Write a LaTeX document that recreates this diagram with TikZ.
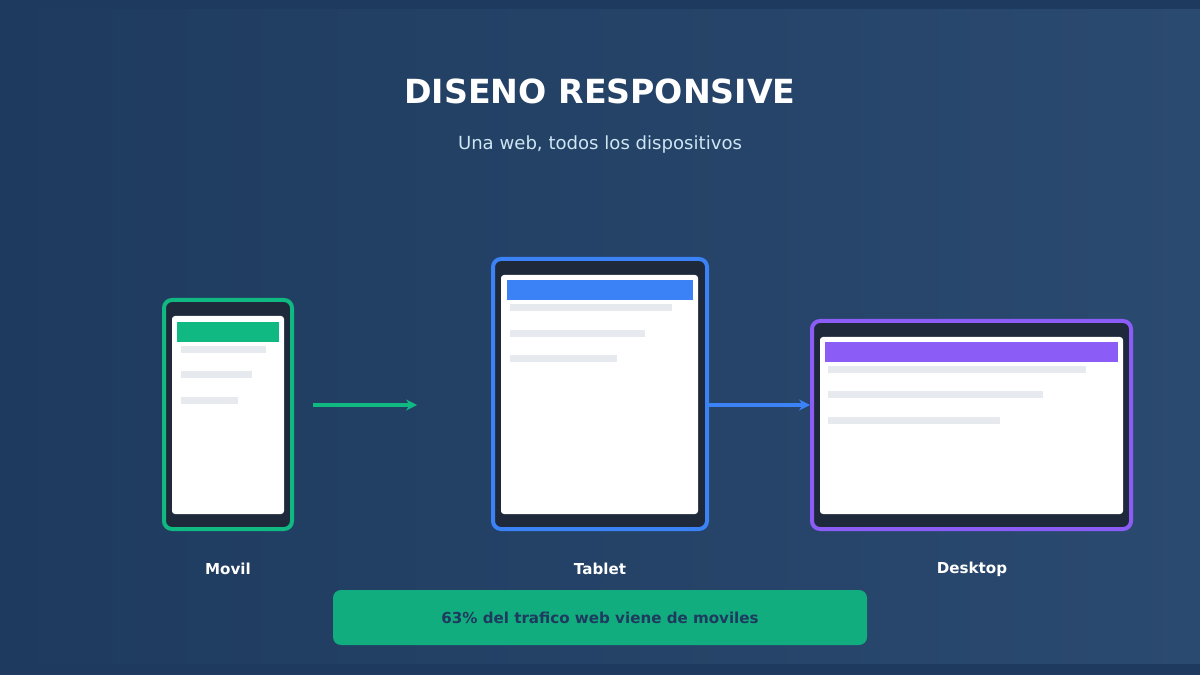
\documentclass[tikz,border=0pt]{standalone}
\usepackage{fontspec}
\setmainfont{DejaVu Sans}
\usetikzlibrary{arrows.meta}

\definecolor{bgleft}{HTML}{1E3A5F}
\definecolor{bgright}{HTML}{2B4A6F}
\definecolor{frame}{HTML}{1E293B}
\definecolor{mobgreen}{HTML}{10B981}
\definecolor{tabblue}{HTML}{3B82F6}
\definecolor{deskpurple}{HTML}{8B5CF6}
\definecolor{skel}{HTML}{E6EAEF}
\definecolor{bannergreen}{HTML}{12AD7E}
\definecolor{subtext}{HTML}{CDE6F2}

\newlength\px
\setlength\px{0.02cm}

\begin{document}
\begin{tikzpicture}[
		x=0.02cm, y=-0.02cm,
		device/.style={draw=#1, fill=frame, line width=4\px, rounded corners=8\px, inner sep=0pt},
		screen/.style={fill=white, rounded corners=3\px},
		skel line/.style={fill=skel},
		flowarrow/.style={color=#1, -{Stealth[length=0.22cm, width=0.22cm]}},
		caption/.style={font=\bfseries\fontsize{8.6}{10}\selectfont, text=white}
		]
		
		% ---------------------------------------------------------
		% Background
		% ---------------------------------------------------------
		\useasboundingbox (0,0) rectangle (1200,675);
		\fill[bgleft] (0,0) rectangle (1200,675);
		\shade[left color=bgleft, right color=bgright] (0,10) rectangle (1200,663);
		
		% ---------------------------------------------------------
		% Title
		% ---------------------------------------------------------
		\node[font=\bfseries\fontsize{18.9}{22}\selectfont, text=white] (title) at (600,91) {DISENO RESPONSIVE};
		\node[font=\fontsize{10.3}{12}\selectfont, text=subtext] (subtitle) at (600,145) {Una web, todos los dispositivos};
		
		% ---------------------------------------------------------
		% Devices
		% ---------------------------------------------------------
		\node[device=mobgreen, minimum width=128\px, minimum height=229\px] (movil) at (228,414.5) {};
		\node[device=tabblue, minimum width=214\px, minimum height=270\px] (tablet) at (600,394) {};
		\node[device=deskpurple, minimum width=319\px, minimum height=208\px] (desktop) at (971.5,425) {};
		
		% Screens with header bar and placeholder lines
		\foreach \xa/\ya/\xb/\yb/\hx/\hy/\hc in {172/316/284/514/177/322/mobgreen, 501/275/698/514/507/280/tabblue, 820/337/1123/514/825/342/deskpurple} {
			\fill[screen] (\xa,\ya) rectangle (\xb,\yb);
			\fill[\hc] (\hx,\hy) rectangle (\xb-5,\hy+20);
		}
		\foreach \xa/\xb/\ya in {181/266/346, 181/252/371, 181/238/397, 510/672/304, 510/645/330, 510/617/355, 828/1086/366, 828/1043/391, 828/1000/417} {
			\fill[skel line] (\xa,\ya) rectangle (\xb,\ya+7);
		}
		
		% ---------------------------------------------------------
		% Arrows between devices
		% ---------------------------------------------------------
		\coordinate (row) at (0,405);
		\draw[flowarrow=mobgreen, line width=1.8pt, shorten <=0.38cm, shorten >=1.48cm] (movil.east |- row) -- (tablet.west |- row);
		\draw[flowarrow=tabblue, line width=1.8pt] (tablet.east |- row) -- (desktop.west |- row);
		
		% ---------------------------------------------------------
		% Labels
		% ---------------------------------------------------------
		\node[caption] (movil label) at (228,569) {Movil};
		\node[caption] (tablet label) at (600,569) {Tablet};
		\node[caption] (desktop label) at (972,569) {Desktop};
		
		% ---------------------------------------------------------
		% Banner
		% ---------------------------------------------------------
		\node[fill=bannergreen, rounded corners=8\px, minimum width=534\px, minimum height=55\px, text=bgleft, font=\bfseries\fontsize{8.6}{10}\selectfont] (banner) at (600,617.5) {63\% del trafico web viene de moviles};
		
	\end{tikzpicture}
\end{document}
